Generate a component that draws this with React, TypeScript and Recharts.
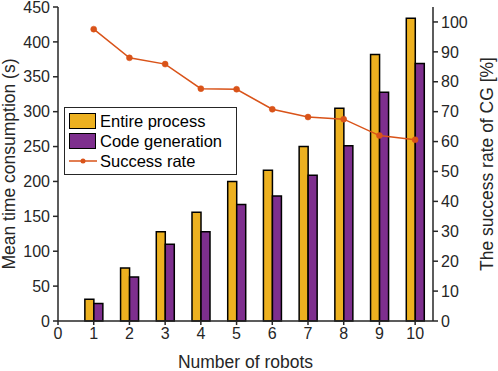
import React from "react";
import {
  ComposedChart,
  Bar,
  Line,
  XAxis,
  YAxis,
  Legend,
} from "recharts";

// number of robots on the x axis
const robots = [1, 2, 3, 4, 5, 6, 7, 8, 9, 10];
// mean time (s)
const entireProcess = [31, 76, 128, 156, 200, 216, 250, 305, 382, 434];
const codeGeneration = [25, 63, 110, 128, 167, 179, 209, 251, 328, 369];
// success rate of CG (%)
const successRate = [97.6, 88, 85.9, 77.7, 77.5, 70.8, 68.2, 67.5, 62, 60.6];

const xTicks = [0, 1, 2, 3, 4, 5, 6, 7, 8, 9, 10];
const leftTicks = [0, 50, 100, 150, 200, 250, 300, 350, 400, 450];
const rightTicks = [0, 10, 20, 30, 40, 50, 60, 70, 80, 90, 100];

const YELLOW = "#EDB120";
const PURPLE = "#7E2F8E";
const ORANGE = "#D95319";
const INK = "#262626";
const FONT = "'Liberation Sans', Arial, sans-serif";

const data = robots.map((n, i) => ({
  n,
  entire: entireProcess[i],
  code: codeGeneration[i],
  rate: successRate[i],
}));

function ChartLegend() {
  const row: React.CSSProperties = {
    display: "flex",
    alignItems: "center",
    height: 20,
  };
  const swatch = (color: string): React.CSSProperties => ({
    width: 25,
    height: 14,
    background: color,
    border: "1.5px solid #000",
    marginRight: 4,
  });
  return (
    <div
      style={{
        background: "#fff",
        border: `1px solid ${INK}`,
        padding: "3px 4px 3px 4px",
        fontFamily: FONT,
        fontSize: 16.5,
        color: "#000",
        width: 163,
        lineHeight: "20px",
      }}
    >
      <div style={row}>
        <div style={swatch(YELLOW)} />
        Entire process
      </div>
      <div style={row}>
        <div style={swatch(PURPLE)} />
        Code generation
      </div>
      <div style={row}>
        <svg width={28} height={14} style={{ marginRight: 3 }}>
          <line x1={0} y1={7} x2={28} y2={7} stroke={ORANGE} strokeWidth={1.5} />
          <circle cx={14} cy={7} r={2.5} fill={ORANGE} />
        </svg>
        Success rate
      </div>
    </div>
  );
}

export default function App() {
  const tick = { fill: INK, fontSize: 16, fontFamily: FONT };
  const axisLine = { stroke: INK, strokeWidth: 1.5 };
  const labelStyle = {
    fill: INK,
    fontSize: 17.5,
    fontFamily: FONT,
    textAnchor: "middle" as const,
  };
  return (
    <div style={{ position: "absolute", left: 0, top: 0, background: "#fff" }}>
      <ComposedChart
        width={498}
        height={371}
        data={data}
        margin={{ top: 7, right: 0, bottom: 0, left: 0 }}
        barGap={0}
      >
        <XAxis
          dataKey="n"
          type="number"
          domain={[0, 10.5]}
          ticks={xTicks}
          allowDataOverflow
          height={50}
          tick={tick}
          tickSize={4}
          tickMargin={3}
          axisLine={axisLine}
          tickLine={axisLine}
          label={{
            value: "Number of robots",
            position: "insideBottom",
            offset: 3,
            style: labelStyle,
          }}
        />
        <XAxis
          xAxisId="top"
          dataKey="n"
          type="number"
          domain={[0, 10.5]}
          orientation="top"
          height={0}
          tick={false}
          tickLine={false}
          axisLine={axisLine}
        />
        <YAxis
          yAxisId="left"
          domain={[0, 450]}
          ticks={leftTicks}
          width={58}
          tick={tick}
          tickSize={5}
          tickMargin={3}
          axisLine={axisLine}
          tickLine={axisLine}
          interval={0}
          label={{
            value: "Mean time consumption (s)",
            angle: -90,
            position: "insideLeft",
            offset: 9,
            style: labelStyle,
          }}
        />
        <YAxis
          yAxisId="right"
          orientation="right"
          domain={[0, 105]}
          ticks={rightTicks}
          width={65}
          tick={tick}
          tickSize={5}
          tickMargin={3}
          axisLine={axisLine}
          tickLine={axisLine}
          interval={0}
          label={{
            value: "The success rate of CG [%]",
            angle: -90,
            position: "insideRight",
            offset: 11,
            style: labelStyle,
          }}
        />
        <Legend
          layout="horizontal"
          verticalAlign="middle"
          align="center"
          content={() => <ChartLegend />}
          wrapperStyle={{ left: 64, top: 107, width: "auto" }}
        />
        <Bar
          yAxisId="left"
          dataKey="entire"
          name="Entire process"
          fill={YELLOW}
          stroke="#000"
          strokeWidth={1.5}
          barSize={9}
          isAnimationActive={false}
        />
        <Bar
          yAxisId="left"
          dataKey="code"
          name="Code generation"
          fill={PURPLE}
          stroke="#000"
          strokeWidth={1.5}
          barSize={9}
          isAnimationActive={false}
        />
        <Line
          yAxisId="right"
          dataKey="rate"
          name="Success rate"
          stroke={ORANGE}
          strokeWidth={1.5}
          dot={{ r: 3, fill: ORANGE, stroke: ORANGE, strokeWidth: 0.5 }}
          isAnimationActive={false}
        />
      </ComposedChart>
    </div>
  );
}
